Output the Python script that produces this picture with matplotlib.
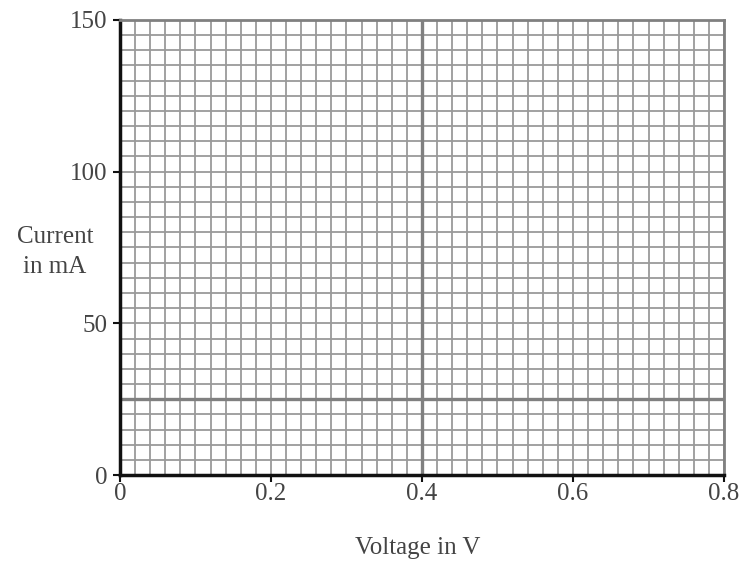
import matplotlib
matplotlib.use("Agg")
import matplotlib.pyplot as plt
import numpy as np

x_ticks = [0, 0.2, 0.4, 0.6, 0.8]
x_tick_labels = ["0", "0.2", "0.4", "0.6", "0.8"]
y_ticks = [0, 50, 100, 150]
y_tick_labels = ["0", "50", "100", "150"]
x_minor_step = 0.02
y_minor_step = 5
x_bold = [0.4]
y_bold = [25]

plt.rcParams['font.family'] = ['Liberation Serif', 'DejaVu Serif']

fig = plt.figure(figsize=(7.43, 5.65), dpi=100)
ax = fig.add_axes([120/743, 90/565, 604/743, 455/565])
ax.set_xlim(0, 0.8)
ax.set_ylim(0, 150)

xs = np.arange(0, 0.8 + 1e-9, x_minor_step)
ys = np.arange(0, 150 + 1e-9, y_minor_step)
for xv in xs:
    ax.axvline(xv, color='#9a9a9a', lw=1.3, zorder=1)
for yv in ys:
    ax.axhline(yv, color='#9a9a9a', lw=1.3, zorder=1)
for xv in x_bold:
    ax.axvline(xv, color='#808080', lw=2.4, zorder=2)
for yv in y_bold:
    ax.axhline(yv, color='#808080', lw=2.4, zorder=2)

for side in ['top', 'right']:
    ax.spines[side].set_color('#808080')
    ax.spines[side].set_linewidth(2)
for side in ['left', 'bottom']:
    ax.spines[side].set_color('#111111')
    ax.spines[side].set_linewidth(2.5)

ax.set_xticks(x_ticks)
ax.set_xticklabels(x_tick_labels)
ax.set_yticks(y_ticks)
ax.set_yticklabels(y_tick_labels)
ax.tick_params(direction='out', length=5, width=1.5, color='#111111',
               labelsize=18, labelcolor='#444444')
ax.tick_params(axis='y', pad=4)
ax.tick_params(axis='x', pad=1)

fig.text(418/743, 1 - 548/565, "Voltage in V", fontsize=18, color='#444444',
         ha='center', va='center')
fig.text(55/743, 1 - 252/565, "Current\nin mA", fontsize=18, color='#444444',
         ha='center', va='center', linespacing=1.45)

fig.savefig("out.png", dpi=100, facecolor='white')
